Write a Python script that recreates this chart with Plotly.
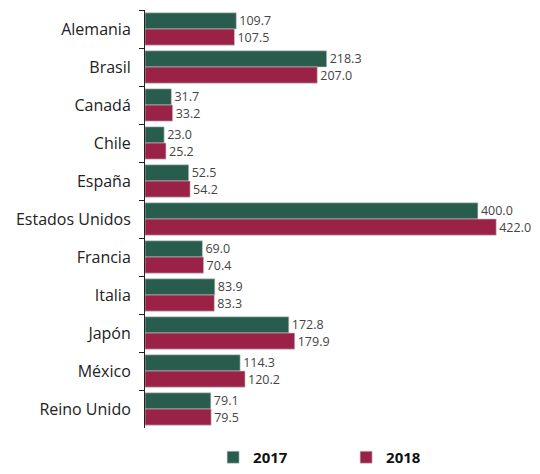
import plotly.graph_objects as go

paises = ["Alemania", "Brasil", "Canadá", "Chile", "España", "Estados Unidos",
          "Francia", "Italia", "Japón", "México", "Reino Unido"]
v2017 = [109.7, 218.3, 31.7, 23.0, 52.5, 400.0, 69.0, 83.9, 172.8, 114.3, 79.1]
v2018 = [107.5, 207.0, 33.2, 25.2, 54.2, 422.0, 70.4, 83.3, 179.9, 120.2, 79.5]

FONT = "Open Sans"
fig = go.Figure()
for name, vals, col in [("2017", v2017, "#285C4D"), ("2018", v2018, "#9B2247")]:
    fig.add_trace(go.Bar(
        y=paises, x=vals, name=name, orientation="h",
        marker=dict(color=col, line=dict(color="rgba(200,200,200,0.6)", width=1)),
        text=[f"{v:.1f}" for v in vals], textposition="outside",
        constraintext="none",
        textfont=dict(family=FONT, size=12.5, color="#444"), cliponaxis=False,
    ))

# the page body adds an 8px margin, so the figure is sized to fit without scrolling
fig.update_layout(
    width=524, height=458,
    margin=dict(l=137, r=0, t=2, b=38, autoexpand=False),
    barmode="group", bargap=0.15, bargroupgap=0,
    plot_bgcolor="white", paper_bgcolor="white",
    font=dict(family=FONT, color="#222"),
    legend=dict(orientation="h", x=0.176, xanchor="left", y=-0.11, yanchor="bottom",
                font=dict(family=FONT, size=15, color="#111", weight="bold"),
                entrywidth=88, itemwidth=30, traceorder="normal"),
    xaxis=dict(range=[0, 465], visible=False, showgrid=False, zeroline=False),
    yaxis=dict(autorange="reversed", type="category", showline=True, linecolor="#222",
               linewidth=1, ticks="outside", tickson="boundaries", ticklen=5,
               tickcolor="#222", tickfont=dict(family=FONT, size=16, color="#222"),
               ticklabelstandoff=10, showgrid=False, automargin=False),
)
fig.write_html("out.html")
